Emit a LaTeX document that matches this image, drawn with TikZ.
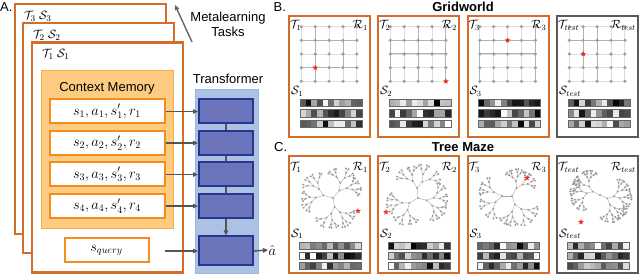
\documentclass[tikz,border=0pt]{standalone}
\usepackage{fontspec}
\setmainfont{Liberation Sans}
\usetikzlibrary{arrows.meta,shapes.geometric}
\definecolor{frameor}{RGB}{212,108,44}
\definecolor{entryor}{RGB}{245,140,30}
\definecolor{cmfill}{RGB}{253,204,128}
\definecolor{cmdraw}{RGB}{248,172,82}
\definecolor{tbgfill}{RGB}{172,194,228}
\definecolor{tbgdraw}{RGB}{150,182,228}
\definecolor{blkfill}{RGB}{108,116,188}
\definecolor{blkdraw}{RGB}{40,52,145}
\definecolor{arrgrey}{RGB}{85,85,85}
\definecolor{testgrey}{RGB}{90,90,90}
\definecolor{dotgrey}{RGB}{160,160,160}
\definecolor{starred}{RGB}{240,40,40}
\tikzset{
  frame/.style={draw=frameor, line width=2.4pt, fill=white, inner sep=0pt},
  cmbox/.style={draw=cmdraw, line width=1pt, fill=cmfill, inner sep=0pt},
  entry/.style={draw=entryor, line width=2pt, fill=white, inner sep=0pt,
    minimum width=115pt, minimum height=24pt, font=\fontsize{14}{16}\selectfont},
  tbgbox/.style={draw=tbgdraw, line width=1pt, fill=tbgfill, inner sep=0pt},
  blk/.style={draw=blkdraw, line width=2pt, fill=blkfill, inner sep=0pt,
    minimum width=54pt, minimum height=24pt},
  arr/.style={draw=arrgrey, line width=1.4pt, -{Triangle[length=5pt,width=4.5pt]}},
  conn/.style={draw=arrgrey, line width=1.4pt},
  sans/.style={font=\fontsize{13}{15}\selectfont},
  bsans/.style={font=\fontsize{13}{15}\selectfont\bfseries},
  mlab/.style={font=\fontsize{13}{15}\selectfont, inner sep=0pt},
  plab/.style={font=\fontsize{12}{14}\selectfont, inner sep=0pt},
  panelbox/.style={line width=2pt, fill=white, inner sep=0pt},
  gfaint/.style={draw=black!13, line width=0.9pt},
  gdark/.style={draw=black!30, line width=1pt},
  redstar/.style={star, star points=5, star point ratio=2.3, fill=starred,
    inner sep=0pt, minimum size=6pt},
  tedge/.style={draw=black!35, line width=0.35pt},
  tdot/.style={fill=black!40},
}
% bars: x0, y0, seed, spacing
\newcommand\mybars[4]{%
  \pgfmathsetseed{#3}%
  \foreach \br in {0,1,2}{%
    \foreach \bc in {0,...,10}{%
      \pgfmathtruncatemacro\gv{100*rnd}%
      \fill[black!\gv] ({#1+5.64*\bc},{#2+#4*\br}) rectangle ++(5.64,7.2);
    }%
    \draw[black!60, line width=0.4pt] ({#1},{#2+#4*\br}) rectangle ++(62,7.2);
  }%
}
% grid panel: left, id, T, R, S, color, dark edges, star c/r, seed
\newcommand\mygridpanel[9]{%
  \node[panelbox, draw=#6, minimum width=81pt, minimum height=121pt] (B#2) at ({#1+41.5},77) {};
  \foreach \gk in {0,...,4}{%
    \draw[gfaint] ({#1+13.3},{26.7+13.65*\gk}) -- ({#1+13.3+55.6},{26.7+13.65*\gk});
    \draw[gfaint] ({#1+13.3+13.9*\gk},26.7) -- ({#1+13.3+13.9*\gk},{26.7+54.6});
  }%
  \foreach \ga/\gb/\gc/\gd in {#7}{%
    \draw[gdark] ({#1+13.3+13.9*\ga},{26.7+13.65*\gb}) -- ({#1+13.3+13.9*\gc},{26.7+13.65*\gd});
  }%
  \foreach \ga in {0,...,4}{\foreach \gb in {0,...,4}{%
    \fill[dotgrey] ({#1+13.3+13.9*\ga},{26.7+13.65*\gb}) circle[radius=1.8];}}%
  \foreach \ga/\gb in {#8}{%
    \node[redstar] (star#2) at ({#1+13.3+13.9*\ga},{26.7+13.65*\gb}) {};}%
  \node[plab, anchor=base west] (T#2) at ({#1+2},29) {$#3$};
  \node[plab, anchor=base east] (R#2) at ({#1+80},29) {$#4$};
  \node[plab, anchor=base west] (S#2) at ({#1+3},95) {$#5$};
  \mybars{#1+12}{99}{#9}{10.7}%
}
% tree panel box + labels + bars
\newcommand\mytreepanel[8]{%
  \node[panelbox, draw=#6, minimum width=81pt, minimum height=116pt] (C#2) at ({#1+41.5},214.5) {};
  \node[plab, anchor=base west] (CT#2) at ({#1+2},171) {$#3$};
  \node[plab, anchor=base east] (CR#2) at ({#1+80},171) {$#4$};
  \node[plab, anchor=base west] (CS#2) at ({#1+3},237) {$#5$};
  \mybars{#1+11}{242}{#8}{10}%
}
\def\tspa{8}\def\tspb{6}\def\tfa{0.7}\def\tfb{0.2}
% recursive tree branch: x, y, angle, length, depth
\newcommand\mytbr[5]{%
  \ifnum#5>0\relax
  \begingroup
    \pgfmathsetmacro\tx{#1+#4*cos(#3)}%
    \pgfmathsetmacro\ty{#2+#4*sin(#3)}%
    \draw[tedge] (#1,#2) -- (\tx,\ty);
    \fill[tdot] (\tx,\ty) circle[radius=1.1];
    \pgfmathsetmacro\tl{#4*(\tfa+\tfb*rnd)}%
    \pgfmathtruncatemacro\td{#5-1}%
    \pgfmathsetmacro\tsp{\tspa+\tspb*#5}%
    \pgfmathsetmacro\ta{#3-\tsp*(0.6+0.6*rnd)}%
    \pgfmathsetmacro\tb{#3+\tsp*(0.6+0.6*rnd)}%
    \edef\tnext{\noexpand\mytbr{\tx}{\ty}{\ta}{\tl}{\td}\noexpand\mytbr{\tx}{\ty}{\tb}{\tl}{\td}}%
    \tnext
  \endgroup
  \fi}
\begin{document}
\begin{tikzpicture}[x=1pt,y=-1pt]
\useasboundingbox (0,0) rectangle (640,275);
% ---------- Panel A ----------
\node[sans, anchor=base west, inner sep=0pt] (lA) at (0,11.7) {A.};
\node[frame, minimum width=151pt, minimum height=230pt] (f3) at (90.5,119) {};
\node[mlab, anchor=base west] (l3) at (24,19.5) {$\mathcal{T}_3\;\mathcal{S}_3$};
\node[frame, minimum width=151pt, minimum height=230pt] (f2) at (98.5,138) {};
\node[mlab, anchor=base west] (l2) at (33,38.5) {$\mathcal{T}_2\;\mathcal{S}_2$};
\node[frame, minimum width=151pt, minimum height=230pt] (f1) at (107.5,157.5) {};
\node[mlab, anchor=base west] (l1) at (42,57.5) {$\mathcal{T}_1\;\mathcal{S}_1$};
\node[cmbox, minimum width=132pt, minimum height=158pt] (cm) at (107,150) {};
\node[sans, anchor=base, inner sep=0pt] (cmlab) at (107,91.5) {Context Memory};
\node[entry] (e1) at (107,111.5) {$s_1, a_1, s'_1, r_1$};
\node[entry] (e2) at (107,143) {$s_2, a_2, s'_2, r_2$};
\node[entry] (e3) at (107,174.5) {$s_3, a_3, s'_3, r_3$};
\node[entry] (e4) at (107,206) {$s_4, a_4, s'_4, r_4$};
\node[entry, minimum width=84pt] (q) at (106.5,250.5) {$s_{query}$};
\coordinate (qs) at (165,251);
% transformer
\node[tbgbox, minimum width=63pt, minimum height=183pt] (tbg) at (226.5,181.5) {};
\node[sans, anchor=base, inner sep=0pt] (tlab) at (228,84) {Transformer};
\node[blk] (b1) at (226,111.5) {};
\node[blk] (b2) at (226,143) {};
\node[blk] (b3) at (226,174.5) {};
\node[blk] (b4) at (226,206) {};
\node[blk, minimum height=29pt] (bq) at (226,251) {};
\draw[conn] (b1.south) -- (b2.north);
\draw[conn] (b2.south) -- (b3.north);
\draw[conn] (b3.south) -- (b4.north);
\draw[arr] (b4.south) -- (bq.north);
\draw[arr] (e1.east) -- (b1.west);
\draw[arr] (e2.east) -- (b2.west);
\draw[arr] (e3.east) -- (b3.west);
\draw[arr] (e4.east) -- (b4.west);
\draw[arr] (qs) -- (bq.west);
\node[font=\fontsize{14}{16}\selectfont, anchor=west, inner sep=0.5pt] (ahat) at (268,250) {$\hat{a}$};
\draw[arr] (bq.east) -- (ahat.west);
% metalearning arrow
\coordinate (ma0) at (192,42);
\coordinate (ma1) at (175,5);
\draw[draw=black!60, line width=1.4pt, -{Triangle[length=5pt,width=4.5pt]}] (ma0) -- (ma1);
\node[sans, anchor=base, inner sep=0pt] (ml1) at (228,21.7) {Metalearning};
\node[sans, anchor=base, inner sep=0pt] (ml2) at (228,36.7) {Tasks};
% ---------- Panel B ----------
\node[sans, anchor=base west, inner sep=0pt] (lB) at (273.5,11.7) {B.};
\node[bsans, anchor=base, inner sep=0pt] (gw) at (463,11.7) {Gridworld};
\mygridpanel{288}{1}{\mathcal{T}_1}{\mathcal{R}_1}{\mathcal{S}_1}{frameor}%
  {0/1/4/1, 0/3/4/3, 1/0/1/4, 3/1/3/3}{1/3}{11}
\mygridpanel{377}{2}{\mathcal{T}_2}{\mathcal{R}_2}{\mathcal{S}_2}{frameor}%
  {0/1/0/4, 0/1/4/1, 0/2/4/2, 2/0/2/4, 4/0/4/4}{4/4}{22}
\mygridpanel{466.5}{3}{\mathcal{T}_3}{\mathcal{R}_3}{\mathcal{S}_3}{frameor}%
  {0/1/4/1, 0/2/4/2, 0/1/0/4, 4/0/4/4}{2/1}{33}
\mygridpanel{556}{4}{\mathcal{T}_{test}}{\mathcal{R}_{test}}{\mathcal{S}_{test}}{testgrey}%
  {0/1/4/1, 1/0/1/3, 2/0/2/4}{1/2}{44}
% ---------- Panel C ----------
\node[sans, anchor=base west, inner sep=0pt] (lC) at (274,151.7) {C.};
\node[bsans, anchor=base, inner sep=0pt] (tm) at (463,151.7) {Tree Maze};
\mytreepanel{288}{1}{\mathcal{T}_1}{\mathcal{R}_1}{\mathcal{S}_1}{frameor}{}{55}
\mytreepanel{377}{2}{\mathcal{T}_2}{\mathcal{R}_2}{\mathcal{S}_2}{frameor}{}{66}
\mytreepanel{466.5}{3}{\mathcal{T}_3}{\mathcal{R}_3}{\mathcal{S}_3}{frameor}{}{77}
\mytreepanel{556}{4}{\mathcal{T}_{test}}{\mathcal{R}_{test}}{\mathcal{S}_{test}}{testgrey}{}{88}
% trees
\pgfmathsetseed{101}
\fill[tdot] (333,198) circle[radius=1.1];
\mytbr{333}{198}{195}{10}{5}\mytbr{333}{198}{310}{10}{5}\mytbr{333}{198}{80}{9}{5}
\pgfmathsetseed{202}
\fill[tdot] (418,198) circle[radius=1.1];
\mytbr{418}{198}{265}{10}{5}\mytbr{418}{198}{150}{10}{5}\mytbr{418}{198}{15}{9}{5}
\pgfmathsetseed{303}
\fill[tdot] (512,196) circle[radius=1.1];
\mytbr{512}{196}{180}{10}{5}\mytbr{512}{196}{300}{9}{5}\mytbr{512}{196}{70}{9}{5}
\pgfmathsetseed{404}
\def\tspa{10}\def\tspb{5}\def\tfa{0.78}\def\tfb{0.1}
\fill[tdot] (600,195) circle[radius=1.1];
\mytbr{600}{195}{205}{8}{6}\mytbr{600}{195}{25}{8}{6}
% stars
\node[redstar] (cs1) at (358,211) {};
\node[redstar] (cs2) at (386,212) {};
\node[redstar] (cs3) at (527,178) {};
\node[redstar] (cs4) at (581,222) {};
\end{tikzpicture}
\end{document}
